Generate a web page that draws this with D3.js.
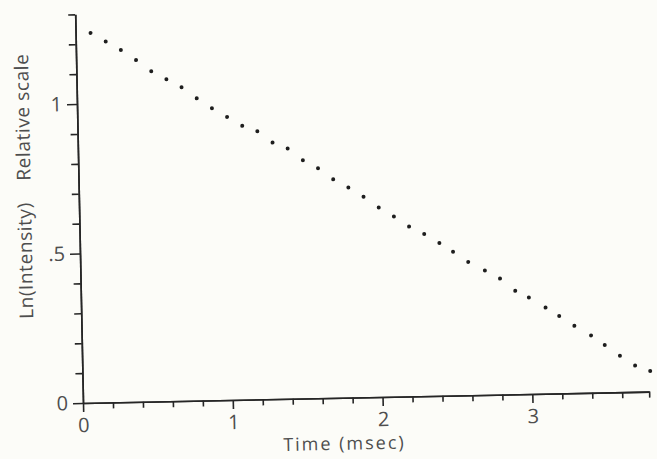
<!DOCTYPE html>
<html>
<head>
<meta charset="utf-8">
<script src="https://cdn.jsdelivr.net/npm/d3@7/dist/d3.min.js"></script>
<style>
  body { margin: 0; background: #fcfcf8; }
  svg text { font-family: "Open Sans", "DejaVu Sans", sans-serif; font-weight: 400; fill: #4e4e4e; }
  .axis path, .axis line { stroke: #262626; stroke-width: 1.6; }
</style>
</head>
<body>
<div id="main"></div>
<script>
// values
const timeMs = [0.10, 0.20, 0.30, 0.40, 0.50, 0.60, 0.70, 0.80, 0.90, 1.00,
                1.10, 1.20, 1.30, 1.40, 1.50, 1.60, 1.70, 1.80, 1.90, 2.00,
                2.10, 2.20, 2.30, 2.40, 2.49, 2.59, 2.70, 2.80, 2.90, 2.99,
                3.10, 3.19, 3.29, 3.40, 3.49, 3.59, 3.69, 3.79];
const lnIntensity = [1.237, 1.207, 1.178, 1.143, 1.105, 1.077, 1.049, 1.011, 0.977, 0.947,
                     0.916, 0.897, 0.858, 0.837, 0.797, 0.769, 0.731, 0.703, 0.671, 0.634,
                     0.603, 0.568, 0.542, 0.511, 0.481, 0.446, 0.416, 0.388, 0.346, 0.323,
                     0.288, 0.259, 0.225, 0.192, 0.159, 0.122, 0.088, 0.069];

const xMajorTicks = [0, 1, 2, 3];
const xMinorTicks = [0.2, 0.4, 0.6, 0.8, 1.2, 1.4, 1.6, 1.8, 2.2, 2.4, 2.6, 2.8, 3.2, 3.4, 3.6, 3.78];
const xTickLabels = ["0", "1", "2", "3"];
const yMajorTicks = [0, 0.5, 1];
const yMinorTicks = [0.1, 0.2, 0.3, 0.4, 0.6, 0.7, 0.8, 0.9, 1.1, 1.2, 1.3];
const yTickLabels = ["0", ".5", "1"];

const ctx = {
    w: 657,
    h: 459,
    ox: 83,       // origin on the page
    oy: 403,
    tilt: -1.15,  // the scan is a little crooked
    PX_PER_MS: 149.8,
    PX_PER_UNIT: 299,
    DOT_R: 2,
    FONT: 20,
};

function drawAxes(g, x, y){
    // minor ticks first, then the major ones with labels
    g.append("g").attr("class", "axis")
        .call(d3.axisBottom(x).tickValues(xMinorTicks).tickSize(6).tickSizeOuter(0).tickFormat(""));
    let xa = g.append("g").attr("class", "axis")
        .call(d3.axisBottom(x).tickValues(xMajorTicks).tickSize(9).tickSizeOuter(0)
              .tickPadding(6).tickFormat((d, i) => xTickLabels[i]));
    xa.selectAll("text").attr("font-size", ctx.FONT).attr("fill", null);

    g.append("g").attr("class", "axis")
        .call(d3.axisLeft(y).tickValues(yMinorTicks).tickSize(7).tickSizeOuter(0).tickFormat(""));
    let ya = g.append("g").attr("class", "axis")
        .call(d3.axisLeft(y).tickValues(yMajorTicks).tickSize(10).tickSizeOuter(0)
              .tickPadding(5).tickFormat((d, i) => yTickLabels[i]));
    ya.selectAll("text").attr("font-size", ctx.FONT).attr("fill", null);
}

function createViz(){
    let svgEl = d3.select("#main").append("svg")
        .attr("width", ctx.w)
        .attr("height", ctx.h);

    let x = d3.scaleLinear().domain([0, 3.78]).range([0, 3.78 * ctx.PX_PER_MS]);
    let y = d3.scaleLinear().domain([0, 1.3]).range([0, -1.3 * ctx.PX_PER_UNIT]);

    let g = svgEl.append("g")
        .attr("transform", `translate(${ctx.ox},${ctx.oy}) rotate(${ctx.tilt})`);

    drawAxes(g, x, y);

    g.append("g").attr("id", "points")
        .selectAll("circle")
        .data(timeMs)
        .enter()
        .append("circle")
        .attr("cx", d => x(d))
        .attr("cy", (d, i) => y(lnIntensity[i]))
        .attr("r", ctx.DOT_R)
        .attr("fill", "#1e1e1e");

    g.append("text")
        .attr("x", x(1.74))
        .attr("y", 52)
        .attr("text-anchor", "middle")
        .attr("font-size", 18)
        .style("letter-spacing", "2px")
        .text("Time (msec)");

    // y title is two pieces with a wide gap
    g.append("text")
        .attr("transform", `translate(-48,${y(0.48)}) rotate(-90)`)
        .attr("text-anchor", "middle")
        .attr("font-size", 19)
        .style("letter-spacing", "0.6px")
        .text("Ln(Intensity)");
    g.append("text")
        .attr("transform", `translate(-48,${y(0.96)}) rotate(-90)`)
        .attr("text-anchor", "middle")
        .attr("font-size", 19)
        .style("letter-spacing", "0.6px")
        .text("Relative scale");
}

createViz();
</script>
</body>
</html>
